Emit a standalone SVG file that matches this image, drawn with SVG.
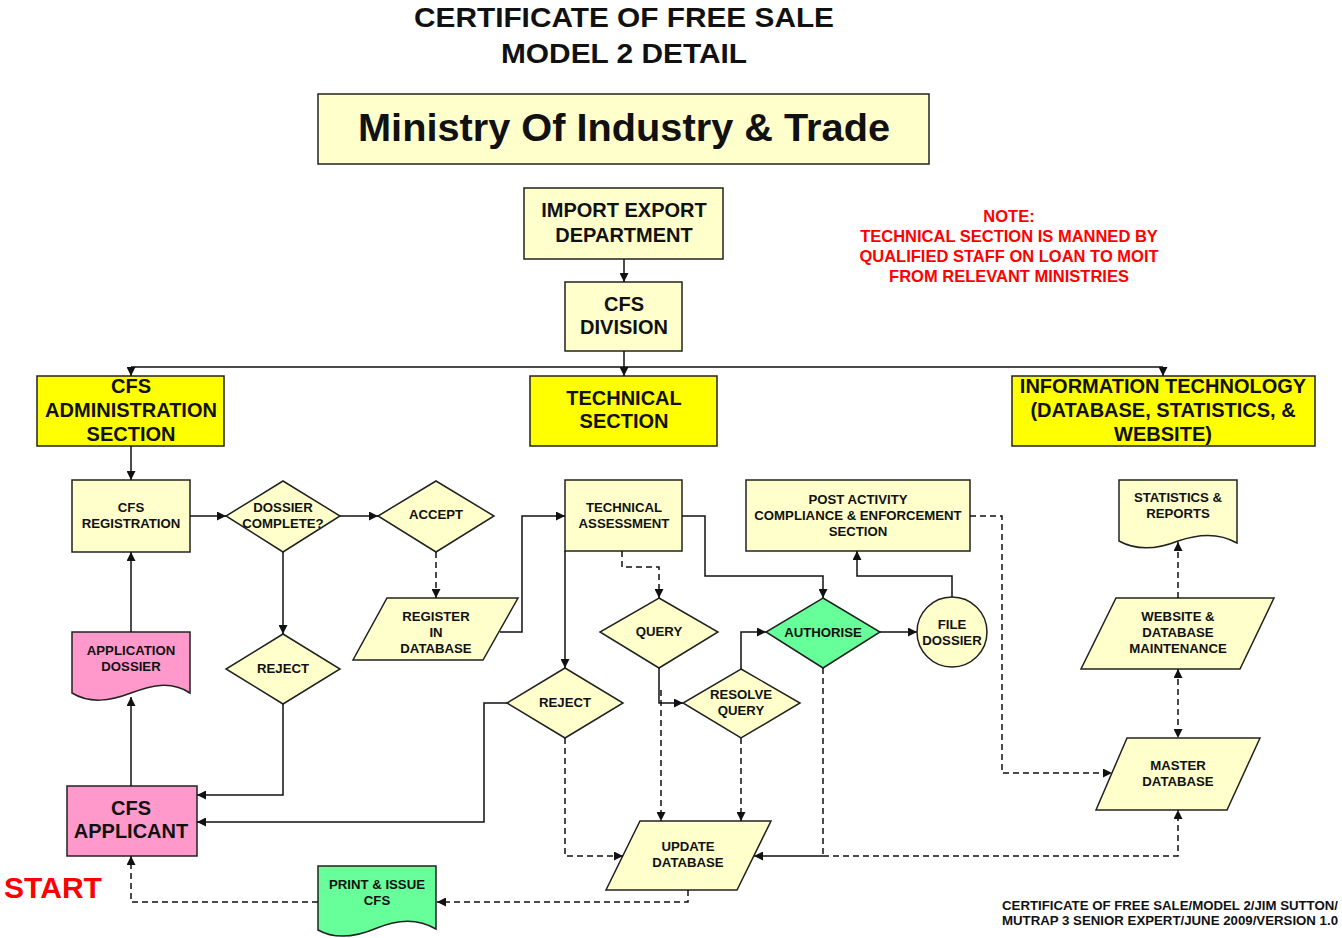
<svg xmlns="http://www.w3.org/2000/svg" width="1342" height="938" viewBox="0 0 1342 938">
<style>
  text { font-family: "Liberation Sans", Arial, sans-serif; font-weight: bold; fill: #111; text-anchor: middle; }
  .lt { fill: #ffffcc; stroke: #222; stroke-width: 1.5; }
  .yl { fill: #ffff00; stroke: #222; stroke-width: 1.5; }
  .pk { fill: #ff99cc; stroke: #222; stroke-width: 1.5; }
  .gr { fill: #66ff99; stroke: #222; stroke-width: 1.5; }
  .ln { fill: none; stroke: #111; stroke-width: 1.5; }
  .da { fill: none; stroke: #111; stroke-width: 1.5; stroke-dasharray: 6 4; }
  .s12 { font-size: 13.2px; }
  .s18 { font-size: 20px; }
  .nt { fill: #ff0000; font-size: 16.5px; }
  .red { fill: #ff0000; }
</style>
<defs>
  <marker id="ar" viewBox="0 0 10 10" refX="10" refY="5" markerWidth="9" markerHeight="9" markerUnits="userSpaceOnUse" orient="auto-start-reverse">
    <path d="M0,0 L10,5 L0,10 z" fill="#111"/>
  </marker>
</defs>
<rect width="1342" height="938" fill="#ffffff"/>

<g id="title">
  <text x="624" y="27" font-size="28" textLength="420" lengthAdjust="spacingAndGlyphs">CERTIFICATE OF FREE SALE</text>
  <text x="624" y="63" font-size="28" textLength="246" lengthAdjust="spacingAndGlyphs">MODEL 2 DETAIL</text>
</g>

<g id="ministry">
  <rect class="lt" x="318" y="94" width="611" height="70"/>
  <text x="624" y="141" font-size="39" textLength="532" lengthAdjust="spacingAndGlyphs">Ministry Of Industry &amp; Trade</text>
</g>

<g id="import-export">
  <rect class="lt" x="524" y="188" width="199" height="71"/>
  <text class="s18" x="624" y="217">IMPORT EXPORT</text>
  <text class="s18" x="624" y="242">DEPARTMENT</text>
</g>

<g id="cfs-division">
  <rect class="lt" x="565" y="282" width="117" height="69"/>
  <text class="s18" x="624" y="311">CFS</text>
  <text class="s18" x="624" y="334">DIVISION</text>
</g>

<g id="note">
  <text class="nt" x="1009" y="222">NOTE:</text>
  <text class="nt" x="1009" y="242">TECHNICAL SECTION IS MANNED BY</text>
  <text class="nt" x="1009" y="262">QUALIFIED STAFF ON LOAN TO MOIT</text>
  <text class="nt" x="1009" y="282">FROM RELEVANT MINISTRIES</text>
</g>

<g id="admin-section">
  <rect class="yl" x="37" y="376" width="187" height="70"/>
  <text class="s18" x="131" y="393">CFS</text>
  <text class="s18" x="131" y="417">ADMINISTRATION</text>
  <text class="s18" x="131" y="441">SECTION</text>
</g>

<g id="technical-section">
  <rect class="yl" x="530" y="376" width="187" height="70"/>
  <text class="s18" x="624" y="405">TECHNICAL</text>
  <text class="s18" x="624" y="428">SECTION</text>
</g>

<g id="it-section">
  <rect class="yl" x="1012" y="376" width="303" height="70"/>
  <text class="s18" x="1163" y="393">INFORMATION TECHNOLOGY</text>
  <text class="s18" x="1163" y="417">(DATABASE, STATISTICS, &amp;</text>
  <text class="s18" x="1163" y="441">WEBSITE)</text>
</g>

<g id="cfs-registration">
  <rect class="lt" x="72" y="480" width="118" height="72"/>
  <text class="s12" x="131" y="512">CFS</text>
  <text class="s12" x="131" y="528">REGISTRATION</text>
</g>

<g id="dossier-complete">
  <polygon class="lt" points="283,481 340,516 283,552 226,516"/>
  <text class="s12" x="283" y="512">DOSSIER</text>
  <text class="s12" x="283" y="528">COMPLETE?</text>
</g>

<g id="accept">
  <polygon class="lt" points="436,481 494,516 436,552 378,516"/>
  <text class="s12" x="436" y="519">ACCEPT</text>
</g>

<g id="reject-1">
  <polygon class="lt" points="283,634 340,669 283,704 226,669"/>
  <text class="s12" x="283" y="673">REJECT</text>
</g>

<g id="application-dossier">
  <path class="pk" d="M72,632 H190 V693 C170,680 150,686 131,693 C110,701 90,704 72,693 Z"/>
  <text class="s12" x="131" y="655">APPLICATION</text>
  <text class="s12" x="131" y="671">DOSSIER</text>
</g>

<g id="cfs-applicant">
  <rect class="pk" x="67" y="786" width="130" height="70"/>
  <text x="131" y="815" font-size="20">CFS</text>
  <text x="131" y="838" font-size="20">APPLICANT</text>
</g>

<g id="start">
  <text class="red" x="53" y="898" font-size="30">START</text>
</g>

<g id="register-in-database">
  <polygon class="lt" points="387,598 518,598 483,660 353,660"/>
  <text class="s12" x="436" y="621">REGISTER</text>
  <text class="s12" x="436" y="637">IN</text>
  <text class="s12" x="436" y="653">DATABASE</text>
</g>

<g id="technical-assessment">
  <rect class="lt" x="565" y="480" width="117" height="71"/>
  <text class="s12" x="624" y="512">TECHNICAL</text>
  <text class="s12" x="624" y="528">ASSESSMENT</text>
</g>

<g id="reject-2">
  <polygon class="lt" points="565,668 623,703 565,738 507,703"/>
  <text class="s12" x="565" y="707">REJECT</text>
</g>

<g id="query">
  <polygon class="lt" points="659,598 718,632 659,668 600,632"/>
  <text class="s12" x="659" y="636">QUERY</text>
</g>

<g id="resolve-query">
  <polygon class="lt" points="741,669 800,703 741,738 683,703"/>
  <text class="s12" x="741" y="699">RESOLVE</text>
  <text class="s12" x="741" y="715">QUERY</text>
</g>

<g id="authorise">
  <polygon class="gr" points="823,598 880,632 823,668 766,632"/>
  <text class="s12" x="823" y="637">AUTHORISE</text>
</g>

<g id="file-dossier">
  <circle class="lt" cx="952" cy="632" r="35"/>
  <text class="s12" x="952" y="629">FILE</text>
  <text class="s12" x="952" y="645">DOSSIER</text>
</g>

<g id="post-activity">
  <rect class="lt" x="746" y="480" width="224" height="71"/>
  <text class="s12" x="858" y="504">POST ACTIVITY</text>
  <text class="s12" x="858" y="520">COMPLIANCE &amp; ENFORCEMENT</text>
  <text class="s12" x="858" y="536">SECTION</text>
</g>

<g id="update-database">
  <polygon class="lt" points="640,821 771,821 737,890 606,890"/>
  <text class="s12" x="688" y="851">UPDATE</text>
  <text class="s12" x="688" y="867">DATABASE</text>
</g>

<g id="print-issue">
  <path class="gr" d="M318,866 H436 V929 C416,917 396,920 377,928 C356,937 336,940 318,930 Z"/>
  <text class="s12" x="377" y="889">PRINT &amp; ISSUE</text>
  <text class="s12" x="377" y="905">CFS</text>
</g>

<g id="statistics-reports">
  <path class="lt" d="M1119,480 H1237 V543 C1218,532 1198,534 1178,541 C1158,549 1137,551 1119,541 Z"/>
  <text class="s12" x="1178" y="502">STATISTICS &amp;</text>
  <text class="s12" x="1178" y="518">REPORTS</text>
</g>

<g id="website-maintenance">
  <polygon class="lt" points="1116,598 1274,598 1240,669 1081,669"/>
  <text class="s12" x="1178" y="621">WEBSITE &amp;</text>
  <text class="s12" x="1178" y="637">DATABASE</text>
  <text class="s12" x="1178" y="653">MAINTENANCE</text>
</g>

<g id="master-database">
  <polygon class="lt" points="1127,738 1260,738 1227,810 1096,810"/>
  <text class="s12" x="1178" y="770">MASTER</text>
  <text class="s12" x="1178" y="786">DATABASE</text>
</g>

<g id="footer">
  <text x="1338" y="910" font-size="12.5" style="text-anchor:end" textLength="336" lengthAdjust="spacingAndGlyphs">CERTIFICATE OF FREE SALE/MODEL 2/JIM SUTTON/</text>
  <text x="1338" y="925" font-size="12.5" style="text-anchor:end" textLength="336" lengthAdjust="spacingAndGlyphs">MUTRAP 3 SENIOR EXPERT/JUNE 2009/VERSION 1.0</text>
</g>

<g id="connectors">
  <path class="ln" d="M624,259 V282" marker-end="url(#ar)"/>
  <path class="ln" d="M624,351 V376" marker-end="url(#ar)"/>
  <path class="ln" d="M131,367 H1163"/>
  <path class="ln" d="M131,367 V376" marker-end="url(#ar)"/>
  <path class="ln" d="M1163,367 V376" marker-end="url(#ar)"/>
  <path class="ln" d="M131,446 V480" marker-end="url(#ar)"/>
  <path class="ln" d="M190,516 H226" marker-end="url(#ar)"/>
  <path class="ln" d="M340,516 H378" marker-end="url(#ar)"/>
  <path class="ln" d="M283,552 V634" marker-end="url(#ar)"/>
  <path class="ln" d="M283,704 V795 H197" marker-end="url(#ar)"/>
  <path class="ln" d="M131,786 V697" marker-end="url(#ar)"/>
  <path class="ln" d="M131,632 V552" marker-end="url(#ar)"/>
  <path class="da" d="M436,552 V598" marker-end="url(#ar)"/>
  <path class="ln" d="M500,632 H522 V516 H565" marker-end="url(#ar)"/>
  <path class="ln" d="M565,551 V668" marker-end="url(#ar)"/>
  <path class="ln" d="M507,703 H484 V822 H197" marker-end="url(#ar)"/>
  <path class="da" d="M565,738 V856 H623" marker-end="url(#ar)"/>
  <path class="da" d="M622,551 V567 H659 V598" marker-end="url(#ar)"/>
  <path class="ln" d="M659,668 V703 H683" marker-end="url(#ar)"/>
  <path class="da" d="M661,690 V821" marker-end="url(#ar)"/>
  <path class="ln" d="M741,669 V632 H766" marker-end="url(#ar)"/>
  <path class="da" d="M741,738 V821" marker-end="url(#ar)"/>
  <path class="ln" d="M682,516 H705 V576 H823 V598" marker-end="url(#ar)"/>
  <path class="ln" d="M880,632 H917" marker-end="url(#ar)"/>
  <path class="ln" d="M952,597 V576 H857 V551" marker-end="url(#ar)"/>
  <path class="da" d="M970,516 H1002 V773 H1112" marker-end="url(#ar)"/>
  <path class="da" d="M823,668 V856"/>
  <path class="ln" d="M823,856 H754" marker-end="url(#ar)"/>
  <path class="da" d="M823,856 H1178 V810" marker-end="url(#ar)"/>
  <path class="da" d="M1178,669 V738" marker-start="url(#ar)" marker-end="url(#ar)"/>
  <path class="da" d="M1178,598 V542" marker-end="url(#ar)"/>
  <path class="da" d="M688,890 V902 H437" marker-end="url(#ar)"/>
  <path class="da" d="M318,902 H131 V856" marker-end="url(#ar)"/>
</g>
</svg>
